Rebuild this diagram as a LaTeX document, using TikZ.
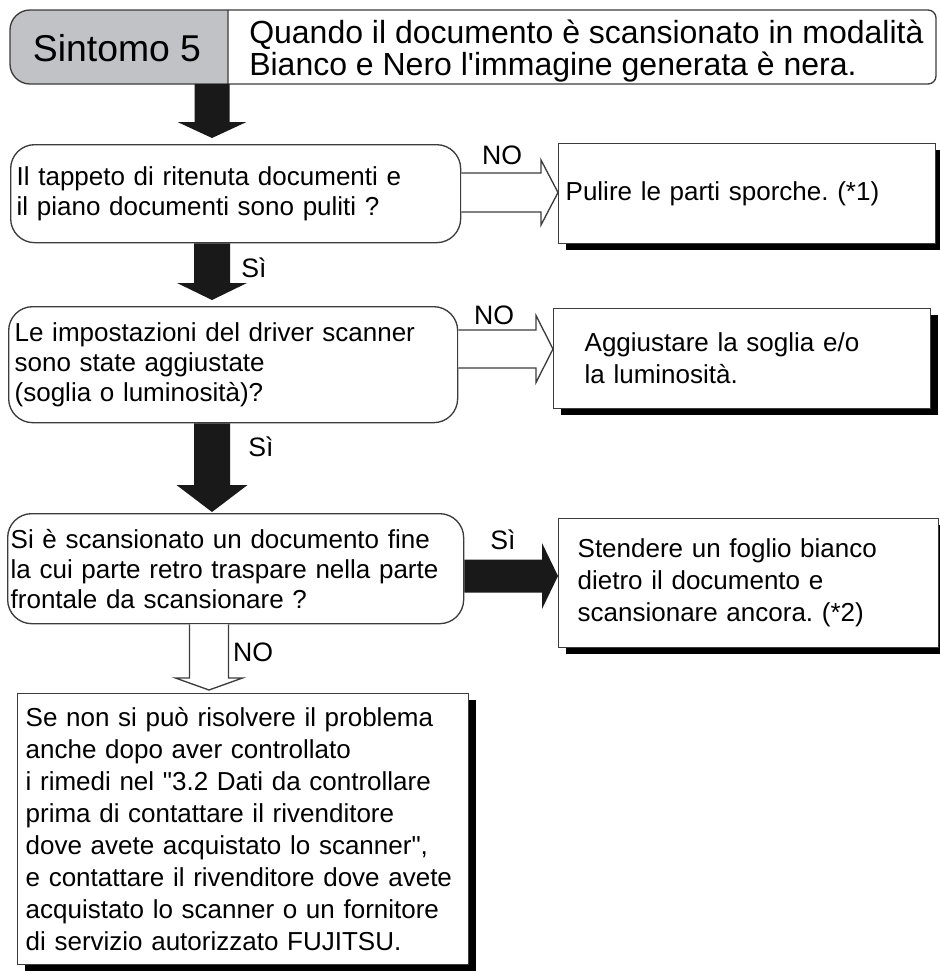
\documentclass[tikz,border=0pt]{standalone}
\usepackage{fontspec}
\setmainfont{Liberation Sans}[Ligatures=TeXOff]
\usetikzlibrary{calc,shadows}
\frenchspacing
\definecolor{hdrgray}{RGB}{193,194,197}
\definecolor{lin}{RGB}{60,60,60}
\definecolor{blk}{RGB}{25,25,25}
\newcommand\qfont{\fontsize{19.5pt}{22.5pt}\selectfont}
\newcommand\afont{\fontsize{19.5pt}{24pt}\selectfont}
\newcommand\hfont{\fontsize{24pt}{23.25pt}\selectfont}
\newcommand\sfont{\fontsize{28pt}{30pt}\selectfont}
% vertical block arrow: start, tip, style, head length, stem half, head half
\newcommand\varr[6]{\filldraw[#3] ($(#1)+(-#5,0)$) -- ($(#2)+(-#5,-#4)$) -- ($(#2)+(-#6,-#4)$) -- (#2) -- ($(#2)+(#6,-#4)$) -- ($(#2)+(#5,-#4)$) -- ($(#1)+(#5,0)$);}
% horizontal block arrow
\newcommand\harr[6]{\filldraw[#3] ($(#1)+(0,-#5)$) -- ($(#2)+(-#4,-#5)$) -- ($(#2)+(-#4,-#6)$) -- (#2) -- ($(#2)+(-#4,#6)$) -- ($(#2)+(-#4,#5)$) -- ($(#1)+(0,#5)$);}
\begin{document}
\begin{tikzpicture}[x=0.75pt,y=-0.75pt,
  qbox/.style={draw=lin, line width=1pt, fill=white, rounded corners=18pt, anchor=north west, align=left, font=\qfont, inner ysep=0pt},
  abox/.style={draw=lin, line width=1pt, fill=white, anchor=north west, align=left, font=\afont, inner ysep=0pt,
    drop shadow={shadow xshift=5.25pt, shadow yshift=-5pt, fill=black, opacity=1}},
  lbl/.style={font=\fontsize{20pt}{22pt}\selectfont, inner sep=0pt},
  solidarrow/.style={fill=blk, draw=none},
  hollowarrow/.style={fill=white, draw=lin, line width=1pt, line join=miter}]
\useasboundingbox (0,0) rectangle (939,971);
% header
\filldraw[fill=hdrgray, draw=lin, line width=1pt] (228,84) [rounded corners=15pt] -- (10,84) -- (10,10) [sharp corners] -- (228,10) -- cycle;
\draw[draw=lin, line width=1pt] (228,10) [rounded corners=6pt] -- (936,10) -- (936,84) [sharp corners] -- (228,84);
\node[font=\sfont, anchor=base, inner sep=0pt] (sym) at (117,61) {Sintomo 5};
\node[font=\hfont, anchor=base west, inner sep=0pt] (title) at (249,43) {\begin{tabular}[t]{@{}l@{}}Quando il documento è scansionato in modalità\\Bianco e Nero l'immagine generata è nera.\end{tabular}};
\coordinate (hb) at (212,84);
\coordinate (ax) at (212,0);
\coordinate (bx) at (209,0);
% questions
\node[qbox, minimum width=337.5pt, minimum height=73.5pt, text width=328.5pt, inner xsep=4.5pt] (q1) at (10,144)
  {Il tappeto di ritenuta documenti e\\il piano documenti sono puliti ?};
\node[qbox, minimum width=336.75pt, minimum height=87pt, text width=327.75pt, inner xsep=4.5pt] (q2) at (8,306)
  {Le impostazioni del driver scanner\\sono state aggiustate\\(soglia o luminosità)?};
\node[qbox, minimum width=342pt, minimum height=82.5pt, text width=337.5pt, inner xsep=2.25pt] (q3) at (7,513)
  {Si è scansionato un documento fine\\la cui parte retro traspare nella parte\\frontale da scansionare ?};
% actions
\node[abox, minimum width=282.75pt, minimum height=75pt, text width=272.25pt, inner xsep=5.25pt] (a1) at (558,143)
  {Pulire le parti sporche. (*1)};
\node[abox, minimum width=282.75pt, minimum height=75pt, text width=236.25pt, inner xsep=23.25pt] (a2) at (553,308)
  {Aggiustare la soglia e/o\\la luminosità.};
\node[abox, minimum width=285pt, minimum height=96.75pt, text width=256.5pt, inner xsep=14.25pt] (a3) at (558,518)
  {Stendere un foglio bianco\\dietro il documento e\\scansionare ancora. (*2)};
\node[abox, minimum width=338.25pt, minimum height=203.25pt, text width=326.25pt, inner xsep=6pt] (fin) at (17,693)
  {Se non si può risolvere il problema\\anche dopo aver controllato\\i rimedi nel "3.2 Dati da controllare\\prima di contattare il rivenditore\\dove avete acquistato lo scanner",\\e contattare il rivenditore dove avete\\acquistato lo scanner o un fornitore\\di servizio autorizzato FUJITSU.};
% arrow end points
\coordinate (t1) at ($(q1.north -| ax)+(0,-6)$);
\coordinate (s2) at (q1.south -| ax);
\coordinate (t2) at ($(q2.north -| ax)+(0,-6)$);
\coordinate (s3) at (q2.south -| ax);
\coordinate (t3) at ($(q3.north -| ax)+(0,-1)$);
\coordinate (s4) at (q3.south -| bx);
\coordinate (t4) at ($(fin.north -| bx)+(0,-3)$);
\coordinate (y1) at (0,192.5);
\coordinate (y2) at (0,349);
\coordinate (y3) at (0,576);
\coordinate (h1s) at (q1.east |- y1);
\coordinate (h1t) at (a1.west |- y1);
\coordinate (h2s) at (q2.east |- y2);
\coordinate (h2t) at (a2.west |- y2);
\coordinate (h3s) at (q3.east |- y3);
\coordinate (h3t) at (a3.west |- y3);
% arrows
\varr{hb}{t1}{solidarrow}{16}{17.5}{34.5}
\varr{s2}{t2}{solidarrow}{17}{18}{35}
\varr{s3}{t3}{solidarrow}{27}{18}{35.5}
\varr{s4}{t4}{hollowarrow}{12}{19.5}{33.5}
\harr{h1s}{h1t}{hollowarrow}{17}{19.5}{32.5}
\harr{h2s}{h2t}{hollowarrow}{17}{19}{33.5}
\harr{h3s}{h3t}{solidarrow}{16}{16.5}{33}
% labels
\node[lbl] (no1) at (502,155) {NO};
\node[lbl] (no2) at (494,315) {NO};
\node[lbl] (si1) at (254,268) {Sì};
\node[lbl] (si2) at (261,447) {Sì};
\node[lbl] (si3) at (503,540) {Sì};
\node[lbl] (no3) at (253,652) {NO};
\end{tikzpicture}
\end{document}
